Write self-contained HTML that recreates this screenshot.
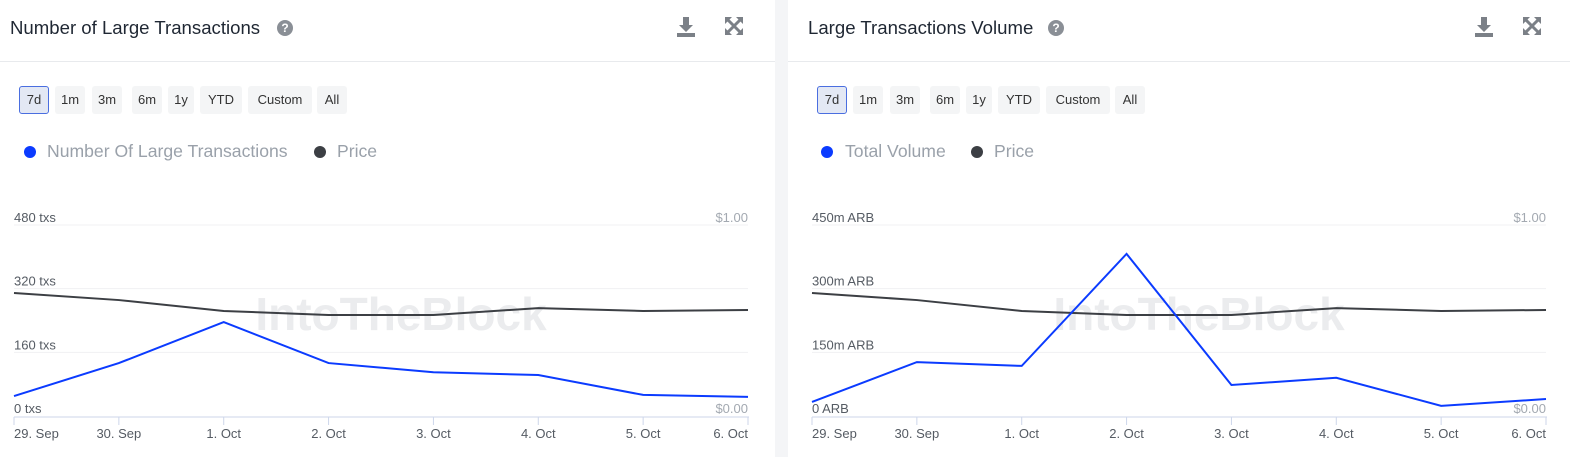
<!DOCTYPE html>
<html><head><meta charset="utf-8">
<style>
body{margin:0;width:1570px;height:457px;background:#f4f5f7;font-family:"Liberation Sans",sans-serif;overflow:hidden;position:relative}
.panel{position:absolute;top:0;height:457px;background:#fff}
.title{position:absolute;top:17px;font-size:18.6px;color:#1f2733}
.help{position:absolute;top:20px;width:16px;height:16px;border-radius:50%;background:#8a8f96;color:#fff;font-size:12px;font-weight:bold;text-align:center;line-height:16px}
.hr{position:absolute;left:0;right:0;top:61px;height:1px;background:#e8eaed}
.btn{position:absolute;top:86px;height:28px;line-height:28px;background:#f4f5f6;color:#333;font-size:13px;text-align:center;border-radius:3px}
.btn.sel{background:#e3e8f4;border:1px solid #4a6ee0;box-sizing:border-box;line-height:26px}
.leg{position:absolute;top:141px;font-size:17.6px;color:#9aa1aa;white-space:nowrap}
.dot{position:absolute;top:5px;width:12px;height:12px;border-radius:50%}
.ic{position:absolute;top:16px}
svg.chart{position:absolute;left:0;top:0}
</style></head><body>
<div class="panel" style="left:0;width:775px">
 <div class="title" style="left:10px">Number of Large Transactions</div>
 <div class="help" style="left:277px">?</div>
 <svg class="ic" style="left:676px" width="20" height="22"><path d="M7 1h6v8h4l-7 7-7-7h4z" fill="#7b8087"/><rect x="1" y="17" width="18" height="4" fill="#7b8087"/></svg>
 <svg class="ic" style="left:724px" width="20" height="20"><g stroke="#7b8087" stroke-width="3" fill="none"><path d="M3 3l14 14M17 3L3 17"/></g><g fill="#7b8087"><path d="M1 1h7L1 8zM19 1h-7l7 7zM1 19h7l-7-7zM19 19h-7l7-7z"/></g></svg>
 <div class="hr"></div>
 <div class="btn sel" style="left:19px;width:30px">7d</div>
 <div class="btn" style="left:55px;width:30px">1m</div>
 <div class="btn" style="left:92px;width:30px">3m</div>
 <div class="btn" style="left:132px;width:30px">6m</div>
 <div class="btn" style="left:168px;width:26px">1y</div>
 <div class="btn" style="left:200px;width:42px">YTD</div>
 <div class="btn" style="left:248px;width:64px">Custom</div>
 <div class="btn" style="left:317px;width:30px">All</div>
 <div class="leg" style="left:47px"><span class="dot" style="left:-23px;background:#0b3bff"></span>Number Of Large Transactions</div>
 <div class="leg" style="left:337px"><span class="dot" style="left:-23px;background:#3c3f44"></span>Price</div>
</div>
<div class="panel" style="left:788px;width:782px">
 <div class="title" style="left:20px">Large Transactions Volume</div>
 <div class="help" style="left:260px">?</div>
 <svg class="ic" style="left:686px" width="20" height="22"><path d="M7 1h6v8h4l-7 7-7-7h4z" fill="#7b8087"/><rect x="1" y="17" width="18" height="4" fill="#7b8087"/></svg>
 <svg class="ic" style="left:734px" width="20" height="20"><g stroke="#7b8087" stroke-width="3" fill="none"><path d="M3 3l14 14M17 3L3 17"/></g><g fill="#7b8087"><path d="M1 1h7L1 8zM19 1h-7l7 7zM1 19h7l-7-7zM19 19h-7l7-7z"/></g></svg>
 <div class="hr"></div>
 <div class="btn sel" style="left:29px;width:30px">7d</div>
 <div class="btn" style="left:65px;width:30px">1m</div>
 <div class="btn" style="left:102px;width:30px">3m</div>
 <div class="btn" style="left:142px;width:30px">6m</div>
 <div class="btn" style="left:178px;width:26px">1y</div>
 <div class="btn" style="left:210px;width:42px">YTD</div>
 <div class="btn" style="left:258px;width:64px">Custom</div>
 <div class="btn" style="left:327px;width:30px">All</div>
 <div class="leg" style="left:57px"><span class="dot" style="left:-24px;background:#0b3bff"></span>Total Volume</div>
 <div class="leg" style="left:206px"><span class="dot" style="left:-23px;background:#3c3f44"></span>Price</div>
</div>
<svg id="chart" class="chart" width="1570" height="457"></svg>
<script>
const categories=["29. Sep","30. Sep","1. Oct","2. Oct","3. Oct","4. Oct","5. Oct","6. Oct"];
const txCounts=[50,133,236,133,110,103,53,48];
const txTicks=[0,160,320,480];
const volumes=[33,127,118,382,73,90,24,40];
const volTicks=[0,150,300,450];
const priceLeft=[0.644,0.607,0.55,0.529,0.529,0.565,0.55,0.555];
const priceRight=[0.644,0.607,0.55,0.529,0.529,0.565,0.55,0.555];
const NS="http://www.w3.org/2000/svg";
const svg=document.getElementById('chart');
function mk(tag,attrs,parent){const e=document.createElementNS(NS,tag);for(const k in attrs)e.setAttribute(k,attrs[k]);(parent||svg).appendChild(e);return e;}
function draw(x0,x1,vals,ticks,unit,prices,prefix){
 const yTop=225,yBot=416,maxV=ticks[ticks.length-1];
 const xs=i=>x0+(x1-x0)*i/(categories.length-1);
 const ys=v=>yBot-(yBot-yTop)*v/maxV;
 const yp=v=>yBot-(yBot-yTop)*v;
 const wm=mk('text',{x:(x0+x1)/2+20,y:330,'font-size':46,'font-weight':'bold',fill:'#ebecee','text-anchor':'middle'});
 wm.textContent='IntoTheBlock';
 
 
 ticks.forEach(t=>{
  const y=ys(t);
  if(t>0){const g=mk('line',{x1:x0,x2:x1,y1:y,y2:y,stroke:'#f0f1f3'});
   
   }
  const l=mk('text',{x:x0,y:y-3,'font-size':13,fill:'#555b63'});
  l.textContent=(t===0&&unit==='m ARB')?'0 ARB':t+unit;
  
  
 });
 [["$1.00",yTop],["$0.00",yBot]].forEach(p=>{
  const l=mk('text',{x:x1,y:p[1]-3,'font-size':13,fill:'#a3a9b1','text-anchor':'end'});
  l.textContent=p[0];
  
  
 });
 const ax=mk('line',{x1:x0,x2:x1+1,y1:yBot+1,y2:yBot+1,stroke:'#cdd6ea'});
 
 
 categories.forEach((c,i)=>{
  const x=xs(i);
  const t=mk('line',{x1:x,x2:x,y1:yBot+1,y2:yBot+9,stroke:'#cdd6ea'});
  
  
  const anchor=i==0?'start':(i==categories.length-1?'end':'middle');
  const l=mk('text',{x:x,y:yBot+22,'font-size':13,fill:'#555b63','text-anchor':anchor});
  l.textContent=c;
  
  
 });
 const pl=mk('polyline',{points:prices.map((v,i)=>xs(i)+','+yp(v)).join(' '),fill:'none',stroke:'#3c3f44','stroke-width':2});
 
 
 const bl=mk('polyline',{points:vals.map((v,i)=>xs(i)+','+ys(v)).join(' '),fill:'none',stroke:'#0b3bff','stroke-width':2});
 
 
}
draw(14,748,txCounts,txTicks,' txs',priceLeft,'transactions');
draw(812,1546,volumes,volTicks,'m ARB',priceRight,'volume');
</script>
</body></html>
